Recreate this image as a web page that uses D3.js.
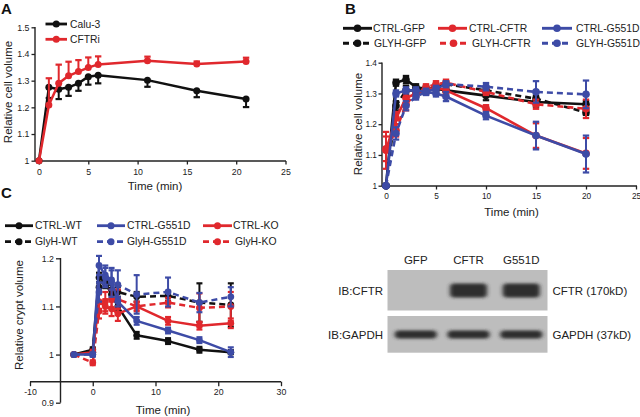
<!DOCTYPE html>
<html><head><meta charset="utf-8">
<script src="https://cdn.jsdelivr.net/npm/d3@7"></script>
<style>
body{margin:0;background:#fff;}
svg{display:block;font-family:Arial,"Liberation Sans",Helvetica,sans-serif;}
</style></head><body>
<svg id="fig" width="640" height="417"></svg>
<script>
// ---------- Panel A data ----------
const timeA = [0,1,2,3,4,5,6,11,16,21];
const calu3 = [1.0,1.275,1.268,1.275,1.29,1.315,1.32,1.302,1.262,1.231];
const calu3Err = [0,0.04,0.037,0.032,0.028,0.03,0.03,0.025,0.024,0.03];
const cftri = [1.0,1.209,1.29,1.318,1.334,1.349,1.361,1.375,1.362,1.372];
const cftriErr = [0,0.1,0.07,0.053,0.043,0.038,0.03,0.015,0.01,0.014];
const ticksA_x = [0,5,10,15,20,25];
const ticksA_y = [1,1.1,1.2,1.3,1.4,1.5];

// ---------- Panel B data ----------
const timeB = [0,1,2,3,4,5,6,10,15,20];
const ctrlGFP = [1.0,1.335,1.345,1.32,1.315,1.315,1.31,1.293,1.272,1.265];
const ctrlGFPErr = [0,0.01,0.012,0.01,0.01,0.01,0.01,0.015,0.015,0.01];
const glyhGFP = [1.0,1.26,1.31,1.31,1.31,1.32,1.33,1.31,1.283,1.238];
const glyhGFPErr = [0,0.015,0.015,0.01,0.01,0.01,0.01,0.01,0.01,0.008];
const ctrlCFTR = [1.115,1.22,1.285,1.30,1.31,1.32,1.31,1.252,1.163,1.105];
const ctrlCFTRErr = [0.06,0.02,0.015,0.01,0.01,0.01,0.01,0.01,0.04,0.05];
const glyhCFTR = [1.12,1.18,1.265,1.30,1.32,1.33,1.335,1.305,1.265,1.25];
const glyhCFTRErr = [0.04,0.02,0.02,0.01,0.01,0.01,0.01,0.01,0.015,0.03];
const ctrlG551D_B = [1.0,1.30,1.31,1.31,1.305,1.30,1.29,1.228,1.163,1.103];
const ctrlG551D_BErr = [0,0.01,0.01,0.01,0.01,0.01,0.015,0.012,0.045,0.06];
const glyhG551D_B = [1.0,1.17,1.26,1.29,1.305,1.315,1.33,1.322,1.305,1.297];
const glyhG551D_BErr = [0,0.02,0.015,0.01,0.01,0.01,0.01,0.012,0.035,0.045];
const ticksB_x = [0,5,10,15,20,25];
const ticksB_y = [1,1.1,1.2,1.3,1.4];

// ---------- Panel C data ----------
const timeC = [-3,0,1,2,3,4,7,12,17,22];
const ctrlWT = [1.0,1.01,1.16,1.15,1.125,1.10,1.04,1.028,1.01,1.005];
const ctrlWTErr = [0.003,0.005,0.01,0.01,0.01,0.01,0.007,0.006,0.006,0.004];
const glyhWT = [1.0,1.005,1.14,1.148,1.135,1.13,1.12,1.122,1.108,1.103];
const glyhWTErr = [0.003,0.005,0.01,0.01,0.01,0.01,0.01,0.01,0.04,0.045];
const ctrlG551D_C = [1.0,1.0,1.185,1.165,1.155,1.11,1.07,1.05,1.03,1.005];
const ctrlG551D_CErr = [0.003,0.004,0.02,0.02,0.02,0.01,0.008,0.006,0.006,0.01];
const glyhG551D_C = [1.0,1.0,1.13,1.16,1.15,1.145,1.125,1.13,1.108,1.12];
const glyhG551D_CErr = [0.003,0.004,0.02,0.02,0.03,0.03,0.04,0.03,0.02,0.02];
const ctrlKO = [1.0,1.005,1.11,1.10,1.095,1.085,1.10,1.07,1.06,1.065];
const ctrlKOErr = [0.003,0.005,0.015,0.015,0.015,0.015,0.008,0.008,0.008,0.01];
const glyhKO = [1.0,0.983,1.09,1.11,1.115,1.115,1.10,1.108,1.097,1.10];
const glyhKOErr = [0.003,0.005,0.015,0.02,0.02,0.02,0.01,0.01,0.03,0.03];
const ticksC_x = [-10,0,10,20,30];
const ticksC_y = [0.9,1,1.1,1.2];

// ---------- Western blot ----------
const lanes = ["GFP","CFTR","G551D"];
const cftrBand = [0,1,1];
const gapdhBand = [1,1,1];
const blotRows = ["IB:CFTR","IB:GAPDH"];
const blotMarkers = ["CFTR (170kD)","GAPDH (37kD)"];

const RED="#e0282d", BLUE="#3d4ba6", BLACK="#111111";
const svg = d3.select("#fig");
const fmtY = d => d===1 ? "1" : d3.format(".1f")(d);

function panel(cfg){
  const g = svg.append("g");
  const x = d3.scaleLinear().domain(cfg.xDomain).range(cfg.xRange);
  const y = d3.scaleLinear().domain(cfg.yDomain).range(cfg.yRange);
  const xa = g.append("g").attr("transform",`translate(0,${cfg.xAxisY})`)
    .call(d3.axisBottom(x).tickValues(cfg.xTicks).tickSize(cfg.tick).tickSizeOuter(0).tickPadding(cfg.xPad).tickFormat(d=>String(d)));
  const ya = g.append("g").attr("transform",`translate(${cfg.yAxisX},0)`)
    .call(d3.axisLeft(y).tickValues(cfg.yTicks).tickSize(cfg.tick).tickSizeOuter(0).tickPadding(cfg.yPad).tickFormat(fmtY));
  [xa,ya].forEach(a=>{
    a.select(".domain").remove();
    a.selectAll(".tick line").attr("stroke","#222").attr("stroke-width",1.3);
    a.selectAll(".tick text").attr("font-size",cfg.tickFont).attr("fill","#222").attr("font-family","Arial, 'Liberation Sans', sans-serif");
  });
  g.append("line").attr("x1",cfg.xLine[0]).attr("x2",cfg.xLine[1]).attr("y1",cfg.xAxisY).attr("y2",cfg.xAxisY).attr("stroke","#222").attr("stroke-width",1.4);
  g.append("line").attr("x1",cfg.yAxisX).attr("x2",cfg.yAxisX).attr("y1",cfg.yLine[0]).attr("y2",cfg.yLine[1]).attr("stroke","#222").attr("stroke-width",1.4);
  // titles
  g.append("text").attr("x",cfg.xTitle[0]).attr("y",cfg.xTitle[1]).attr("text-anchor","middle")
    .attr("font-size",11.5).attr("fill","#222").text("Time (min)");
  g.append("text").attr("transform",`translate(${cfg.yTitle[0]},${cfg.yTitle[1]}) rotate(-90)`).attr("text-anchor","middle")
    .attr("font-size",11.5).attr("fill","#222").text(cfg.yLabel);
  g.append("text").attr("x",cfg.letter[0]).attr("y",cfg.letter[1]).attr("font-size",15).attr("font-weight","bold").attr("fill","#111").text(cfg.letterText);

  const line = d3.line().x(d=>x(d[0])).y(d=>y(d[1]));
  cfg.series.forEach(s=>{
    const pts = s.t.map((t,i)=>[t,s.v[i],s.e[i]]);
    const sg = g.append("g");
    sg.append("path").attr("d",line(pts)).attr("fill","none").attr("stroke",s.color)
      .attr("stroke-width",cfg.lw).attr("stroke-dasharray",s.dash?cfg.dash:null).attr("stroke-linejoin","round");
    pts.forEach(p=>{
      if(!p[2]) return;
      const up = s.dir>=0 ? p[2] : 0, dn = s.dir<=0 ? p[2] : 0;
      const y1 = y(p[1]+up), y2 = y(p[1]-dn), cx = x(p[0]);
      sg.append("line").attr("x1",cx).attr("x2",cx).attr("y1",y1).attr("y2",y2).attr("stroke",s.color).attr("stroke-width",2);
      [up? y1:null, dn? y2:null].forEach(yy=>{
        if(yy===null) return;
        sg.append("line").attr("x1",cx-cfg.cap).attr("x2",cx+cfg.cap).attr("y1",yy).attr("y2",yy).attr("stroke",s.color).attr("stroke-width",2.2);
      });
    });
    sg.selectAll("circle").data(pts).join("circle").attr("cx",d=>x(d[0])).attr("cy",d=>y(d[1])).attr("r",cfg.r).attr("fill",s.color);
  });
  // legend
  cfg.legend.forEach(L=>{
    const s = L.s;
    g.append("line").attr("x1",L.x0).attr("x2",L.x1).attr("y1",L.y).attr("y2",L.y).attr("stroke",s.color)
      .attr("stroke-width",cfg.lw+0.3).attr("stroke-dasharray",s.dash?cfg.legDash:null);
    g.append("circle").attr("cx",(L.x0+L.x1)/2).attr("cy",L.y).attr("r",cfg.legR).attr("fill",s.color);
    g.append("text").attr("x",L.tx).attr("y",L.y+3.7).attr("font-size",cfg.legFont).attr("fill","#222").text(s.name);
  });
}

// ---- Panel A ----
const sA = [
  {name:"Calu-3", t:timeA, v:calu3, e:calu3Err, color:BLACK, dash:false, dir:-1},
  {name:"CFTRi", t:timeA, v:cftri, e:cftriErr, color:RED, dash:false, dir:1}
];
panel({xDomain:[0,25], xRange:[39,285.5], yDomain:[1,1.5], yRange:[160.7,27.3],
  xTicks:ticksA_x, yTicks:ticksA_y, xAxisY:161, yAxisX:35, xLine:[35,286], yLine:[161,27],
  tick:3.5, xPad:4, yPad:2, tickFont:8.8, xTitle:[155,190], yTitle:[12,92], yLabel:"Relative cell volume",
  letter:[1,14], letterText:"A", lw:2.5, r:3.5, cap:3.2, dash:"6,4", legDash:"6,4", legR:3.5, legFont:10.3,
  series:sA,
  legend:[{s:sA[0],x0:45.5,x1:67,y:24,tx:70},{s:sA[1],x0:45.5,x1:67,y:39.3,tx:70}]
});

// ---- Panel B ----
const sB = [
  {name:"CTRL-GFP", t:timeB, v:ctrlGFP, e:ctrlGFPErr, color:BLACK, dash:false, dir:0},
  {name:"GLYH-GFP", t:timeB, v:glyhGFP, e:glyhGFPErr, color:BLACK, dash:true, dir:0},
  {name:"CTRL-CFTR", t:timeB, v:ctrlCFTR, e:ctrlCFTRErr, color:RED, dash:false, dir:0},
  {name:"GLYH-CFTR", t:timeB, v:glyhCFTR, e:glyhCFTRErr, color:RED, dash:true, dir:0},
  {name:"CTRL-G551D", t:timeB, v:ctrlG551D_B, e:ctrlG551D_BErr, color:BLUE, dash:false, dir:0},
  {name:"GLYH-G551D", t:timeB, v:glyhG551D_B, e:glyhG551D_BErr, color:BLUE, dash:true, dir:0}
];
panel({xDomain:[0,25], xRange:[386,636], yDomain:[1,1.4], yRange:[185.7,62.7],
  xTicks:ticksB_x, yTicks:ticksB_y, xAxisY:186, yAxisX:382, xLine:[382,637], yLine:[186,62.5],
  tick:3.5, xPad:4, yPad:1.5, tickFont:8.3, xTitle:[511.5,216], yTitle:[361.5,124], yLabel:"Relative cell volume",
  letter:[345,14], letterText:"B", lw:2.6, r:3.8, cap:3.2, dash:"6,4", legDash:"6,4", legR:3.8, legFont:10.4,
  series:sB,
  legend:[
    {s:sB[0],x0:343,x1:372,y:28.3,tx:373},{s:sB[1],x0:343,x1:372,y:43.3,tx:374},
    {s:sB[2],x0:438,x1:467,y:28.3,tx:469},{s:sB[3],x0:440,x1:467,y:43.3,tx:472},
    {s:sB[4],x0:542,x1:572,y:28.3,tx:576},{s:sB[5],x0:542,x1:572,y:43.3,tx:576}
  ]
});

// ---- Panel C ----
const sC = [
  {name:"CTRL-WT", t:timeC, v:ctrlWT, e:ctrlWTErr, color:BLACK, dash:false, dir:0},
  {name:"GlyH-WT", t:timeC, v:glyhWT, e:glyhWTErr, color:BLACK, dash:true, dir:0},
  {name:"CTRL-KO", t:timeC, v:ctrlKO, e:ctrlKOErr, color:RED, dash:false, dir:0},
  {name:"GlyH-KO", t:timeC, v:glyhKO, e:glyhKOErr, color:RED, dash:true, dir:0},
  {name:"CTRL-G551D", t:timeC, v:ctrlG551D_C, e:ctrlG551D_CErr, color:BLUE, dash:false, dir:0},
  {name:"GlyH-G551D", t:timeC, v:glyhG551D_C, e:glyhG551D_CErr, color:BLUE, dash:true, dir:0}
];
panel({xDomain:[-10,30], xRange:[30,281], yDomain:[0.9,1.2], yRange:[402.7,258.3],
  xTicks:ticksC_x, yTicks:ticksC_y, xAxisY:381.7, yAxisX:60.5, xLine:[30,281], yLine:[402.7,258],
  tick:4.5, xPad:3, yPad:2, tickFont:8.8, xTitle:[163,414], yTitle:[22.5,315], yLabel:"Relative crypt volume",
  letter:[1,198], letterText:"C", lw:2.5, r:3.4, cap:3, dash:"6,4", legDash:"6,4", legR:3.5, legFont:10.4,
  series:sC,
  legend:[
    {s:sC[0],x0:5,x1:33,y:225.7,tx:35},{s:sC[1],x0:5,x1:33,y:241.7,tx:35},
    {s:sC[4],x0:97,x1:125,y:225.7,tx:127},{s:sC[5],x0:97,x1:125,y:241.7,tx:127},
    {s:sC[2],x0:203,x1:232,y:225.7,tx:233},{s:sC[3],x0:203,x1:232,y:241.7,tx:235}
  ]
});

// ---- Western blot ----
const defs = svg.append("defs");
defs.append("filter").attr("id","blurBand").attr("x","-30%").attr("y","-80%").attr("width","160%").attr("height","260%")
  .append("feGaussianBlur").attr("stdDeviation","2.2 1.6");
const bx = d3.scaleBand().domain(lanes).range([392,545]).paddingInner(0.1);
const wb = svg.append("g");
const boxes = [{y0:270,y1:310.5,vals:cftrBand,bh:14,bw:37,cy:290.5},{y0:316,y1:352.7,vals:gapdhBand,bh:8,bw:42,cy:334.5}];
boxes.forEach((b,i)=>{
  wb.append("rect").attr("x",387.5).attr("y",b.y0).attr("width",160).attr("height",b.y1-b.y0).attr("fill","#bdbdbd");
  lanes.forEach((l,j)=>{
    if(!b.vals[j]) return;
    const cx = bx(l)+bx.bandwidth()/2;
    wb.append("rect").attr("x",cx-b.bw/2).attr("y",b.cy-b.bh/2).attr("width",b.bw).attr("height",b.bh)
      .attr("rx",4).attr("fill","#2e2e2e").attr("filter","url(#blurBand)").attr("opacity",b.vals[j]);
  });
  wb.append("text").attr("x",383).attr("y",(b.y0+b.y1)/2+4.5).attr("text-anchor","end").attr("font-size",11.5).attr("fill","#222").text(blotRows[i]);
  wb.append("text").attr("x",552.5).attr("y",(b.y0+b.y1)/2+4.5).attr("font-size",11.5).attr("fill","#222").text(blotMarkers[i]);
});
lanes.forEach(l=>{
  wb.append("text").attr("x",bx(l)+bx.bandwidth()/2).attr("y",264).attr("text-anchor","middle").attr("font-size",11.5).attr("fill","#222").text(l);
});
</script>
</body></html>
